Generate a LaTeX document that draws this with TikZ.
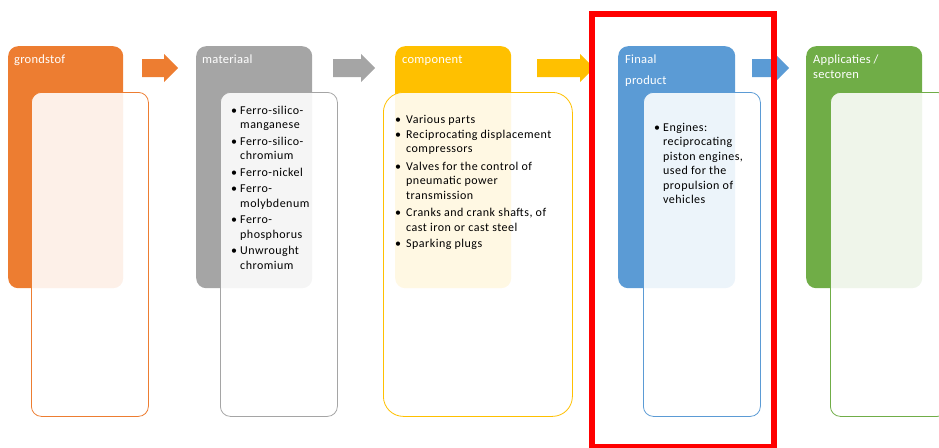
\documentclass[tikz,border=0pt]{standalone}
\usepackage{fontspec}
\setmainfont{Carlito}
\newfontfamily\bodyfont{Carlito}[LetterSpace=4]
\newfontfamily\headfont{Carlito}[LetterSpace=2]
\definecolor{cOr}{HTML}{ED7D31}
\definecolor{cGr}{HTML}{A5A5A5}
\definecolor{cYe}{HTML}{FFC000}
\definecolor{cBl}{HTML}{5B9BD5}
\definecolor{cGn}{HTML}{70AD47}
\definecolor{cRed}{HTML}{FF0000}
\newcommand{\bulw}[1]{\makebox[#1][l]{•}}
\begin{document}
\begin{tikzpicture}[x=1pt,y=-1pt,
  hdr/.style={fill=#1, draw=none, rounded corners=10pt, inner sep=0pt,
    minimum height=242pt, anchor=north west},
  inbox/.style={fill=white, fill opacity=0.89, draw=#1, draw opacity=1,
    line width=0.8pt, rounded corners=10pt, inner sep=0pt,
    minimum height=324pt, anchor=north west},
  htext/.style={text=white, font=\headfont\fontsize{12.5}{15}\selectfont, inner sep=0pt, anchor=base west},
  btext/.style={text=black, font=\bodyfont\fontsize{12}{14.5}\selectfont, inner sep=0pt, anchor=north west, align=left},
  blockarrow/.style={fill=#1, draw=none}
]
\useasboundingbox (0,0) rectangle (939,447);

% headers
\node[hdr=cOr, minimum width=115pt] (h1) at (8,46) {};
\node[hdr=cGr, minimum width=116pt] (h2) at (196,46) {};
\node[hdr=cYe, minimum width=116pt] (h3) at (395,46) {};
\node[hdr=cBl, minimum width=117pt] (h4) at (618,46) {};
\node[hdr=cGn, minimum width=116pt] (h5) at (806,46) {};

% inner boxes
\node[inbox=cOr, minimum width=117pt] (b1) at (31,92) {};
\node[inbox=cGr, minimum width=117pt] (b2) at (220,92) {};
\node[inbox=cYe, minimum width=189pt, rounded corners=20pt] (b3) at (383,92) {};
\node[inbox=cBl, minimum width=117pt] (b4) at (643,92) {};
\node[inbox=cGn, minimum width=117pt] (b5) at (830,92) {};

% header labels
\node[htext] (t1) at (14,63) {grondstof};
\node[htext] (t2) at (202,63) {materiaal};
\node[htext] (t3) at (402,63) {component};
\node[htext] (t4a) at (625,63) {Finaal};
\node[htext] (t4b) at (625,84) {product};
\node[htext] (t5a) at (813,63) {Applicaties /};
\node[htext] (t5b) at (813,78) {sectoren};

% lists
\node[btext] (l2) at (231,104) {%
\begin{tabular}{@{}l@{}l@{}}
\bulw{9pt} & Ferro-silico-\\
 & manganese\\[2pt]
\bulw{9pt} & Ferro-silico-\\
 & chromium\\[2pt]
\bulw{9pt} & Ferro-nickel\\[2pt]
\bulw{9pt} & Ferro-\\
 & molybdenum\\[2pt]
\bulw{9pt} & Ferro-\\
 & phosphorus\\[2pt]
\bulw{9pt} & Unwrought\\
 & chromium
\end{tabular}};

\node[btext] (l3) at (395,113) {%
\begin{tabular}{@{}l@{}l@{}}
\bulw{11pt} & Various parts\\[0.5pt]
\bulw{11pt} & Reciprocating displacement\\
 & compressors\\[3pt]
\bulw{11pt} & Valves for the control of\\
 & pneumatic power\\
 & transmission\\[3pt]
\bulw{11pt} & Cranks and crank shafts, of\\
 & cast iron or cast steel\\[1.5pt]
\bulw{11pt} & Sparking plugs
\end{tabular}};

\node[btext] (l4) at (654,121) {%
\begin{tabular}{@{}l@{}l@{}}
\bulw{9pt} & Engines:\\
 & reciprocating\\
 & piston engines,\\
 & used for the\\
 & propulsion of\\
 & vehicles
\end{tabular}};

% block arrows
\fill[blockarrow=cOr] (142,59) -- (164,59) -- (164,54) -- (178,68) -- (164,82) -- (164,77) -- (142,77) -- cycle;
\fill[blockarrow=cGr] (333,59) -- (361,59) -- (361,54) -- (375,68) -- (361,82) -- (361,77) -- (333,77) -- cycle;
\fill[blockarrow=cYe] (537,59) -- (580,59) -- (580,54) -- (594,68) -- (580,82) -- (580,77) -- (537,77) -- cycle;
\fill[blockarrow=cBl] (752,59) -- (775,59) -- (775,54) -- (789,68) -- (775,82) -- (775,77) -- (752,77) -- cycle;

% highlight frame
\node[draw=cRed, line width=5.5pt, inner sep=0pt, minimum width=182pt, minimum height=433pt, anchor=north west] (frame) at (589,11) {};
\end{tikzpicture}
\end{document}
